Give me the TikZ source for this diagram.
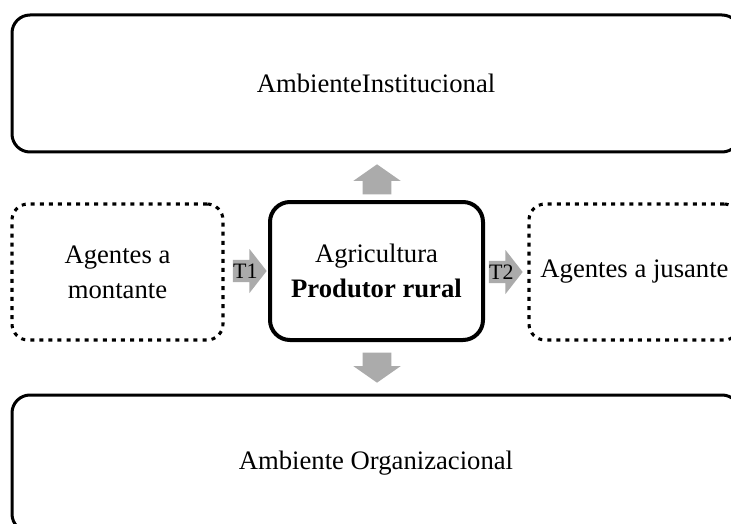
\documentclass[tikz,border=0pt]{standalone}
\usepackage{fontspec}
\setmainfont{Liberation Serif}
\usetikzlibrary{shapes.arrows}
\definecolor{flowgray}{RGB}{171,171,171}
\begin{document}
\begin{tikzpicture}[x=0.75pt,y=-0.75pt]
\tikzstyle{env} = [draw=black, line width=2.25pt, rounded corners=13.5pt, minimum width=546pt, minimum height=102.75pt, font=\fontsize{20}{24}\selectfont]
\tikzstyle{agent} = [draw=black, line width=2.3pt, dash pattern=on 3pt off 3.8pt, rounded corners=12pt, minimum width=158.25pt, minimum height=102pt, align=center, font=\fontsize{20}{26.25}\selectfont]
\tikzstyle{farm} = [agent, solid, line width=3pt, rounded corners=15pt, minimum width=159.75pt, minimum height=103.5pt]
\tikzstyle{flow} = [single arrow, fill=flowgray, draw=none, anchor=tip, inner xsep=0pt, inner ysep=1.7pt, text height=11pt, text depth=0pt, minimum width=33pt, single arrow tip angle=104, font=\fontsize{16.5}{16.5}\selectfont]
\tikzstyle{vflow} = [single arrow, fill=flowgray, draw=none, anchor=tip, inner xsep=0pt, inner ysep=10.5pt, text height=0pt, text depth=0pt, minimum width=33pt, minimum height=22.5pt, single arrow tip angle=110]

\path[use as bounding box, fill=white] (0,0) rectangle (731,524);

\node[env] (inst) at (376,83.5) {AmbienteInstitucional};
\node[env] (org) at (376,463.5) {Ambiente Organizacional};
\node[agent] (mont) at (117.5,272) {Agentes a\\montante};
\node[farm] (agri) at (376.5,271) {Agricultura\\\textbf{Produtor rural}};
\node[agent] (jus) at (634.5,272) {Agentes a jusante};

\node[flow] (t1) at (267,271) {T1};
\node[flow] (t2) at (523,272) {T2};
\node[vflow, rotate=90] (up) at (377,164) {};
\node[vflow, rotate=-90] (down) at (377,383) {};
\end{tikzpicture}
\end{document}
